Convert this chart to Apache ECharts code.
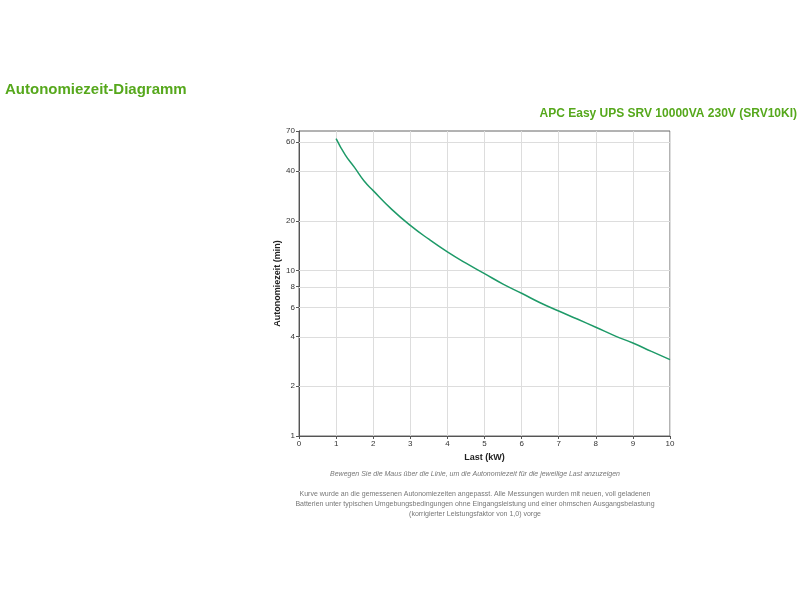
<!DOCTYPE html>
<html><head><meta charset="utf-8">
<script src="https://cdn.jsdelivr.net/npm/echarts@6/dist/echarts.min.js"></script>
<style>body{margin:0;background:#fff}#c{width:800px;height:600px}</style>
</head><body><div id="c"></div>
<script>
const loadKW = [1, 1.25, 1.5, 1.75, 2, 2.5, 3, 3.5, 4, 4.5, 5, 5.5, 6, 6.5, 7, 7.5, 8, 8.5, 9, 9.5, 10];
const runtimeMin = [63, 50, 42, 35, 30.5, 23.5, 18.8, 15.5, 13, 11.1, 9.6, 8.3, 7.3, 6.4, 5.7, 5.1, 4.55, 4.05, 3.65, 3.25, 2.9];
const yTicks = [1, 2, 4, 6, 8, 10, 20, 40, 60, 70];
const green = '#56a81c';
const lg = v => Math.log10(v);
const chart = echarts.init(document.getElementById('c'));
chart.setOption({
  animation: false,
  title: [
    {text: 'Autonomiezeit-Diagramm', left: 0, top: 77, textStyle: {color: green, fontSize: 15, fontWeight: 'bold', fontFamily: 'Arial'}},
    {text: 'APC Easy UPS SRV 10000VA 230V (SRV10KI)', right: -2, top: 103, textStyle: {color: green, fontSize: 12, fontWeight: 'bold', fontFamily: 'Arial'}}
  ],
  graphic: [
    {type: 'text', x: 475, y: 471, style: {text: 'Bewegen Sie die Maus über die Linie, um die Autonomiezeit für die jeweilige Last anzuzeigen', fill: '#777', font: 'italic 7px Arial', textAlign: 'center'}},
    {type: 'text', x: 475, y: 489, style: {text: 'Kurve wurde an die gemessenen Autonomiezeiten angepasst. Alle Messungen wurden mit neuen, voll geladenen\nBatterien unter typischen Umgebungsbedingungen ohne Eingangsleistung und einer ohmschen Ausgangsbelastung\n(korrigierter Leistungsfaktor von 1,0) vorge', fill: '#777', font: '7px Arial', textAlign: 'center', lineHeight: 10}}
  ],
  grid: {left: 299, right: 130, top: 131, bottom: 164, show: true, borderColor: '#666', borderWidth: 1},
  xAxis: {
    type: 'value', min: 0, max: 10, interval: 1,
    name: 'Last (kW)', nameLocation: 'middle', nameGap: 16,
    nameTextStyle: {fontSize: 9, fontWeight: 'bold', color: '#222', fontFamily: 'Arial'},
    axisLine: {lineStyle: {color: '#555'}},
    axisTick: {length: 3, lineStyle: {color: '#555'}},
    axisLabel: {fontSize: 8, color: '#333', margin: 4},
    splitLine: {show: true, lineStyle: {color: '#ddd'}}
  },
  yAxis: {
    type: 'value', min: 0, max: lg(70),
    name: 'Autonomiezeit (min)', nameLocation: 'middle', nameGap: 14,
    nameTextStyle: {fontSize: 9, fontWeight: 'bold', color: '#222', fontFamily: 'Arial'},
    axisLine: {show: true, lineStyle: {color: '#555'}},
    axisTick: {show: true, length: 3, customValues: yTicks.map(lg), lineStyle: {color: '#555'}},
    axisLabel: {fontSize: 8, color: '#333', margin: 4, customValues: yTicks.map(lg),
      formatter: v => String(Math.round(Math.pow(10, v)))},
    splitLine: {show: false}
  },
  series: [
    {type: 'line', z: 1, data: [], silent: true,
     markLine: {silent: true, symbol: 'none', label: {show: false}, lineStyle: {color: '#ddd', type: 'solid', width: 1},
       data: yTicks.slice(1, -1).map(t => ({yAxis: lg(t)}))}},
    {type: 'line', z: 5, data: loadKW.map((x, i) => [x, lg(runtimeMin[i])]), smooth: true, showSymbol: false,
     lineStyle: {color: '#1e9a68', width: 1.5}}
  ]
});
</script></body></html>
